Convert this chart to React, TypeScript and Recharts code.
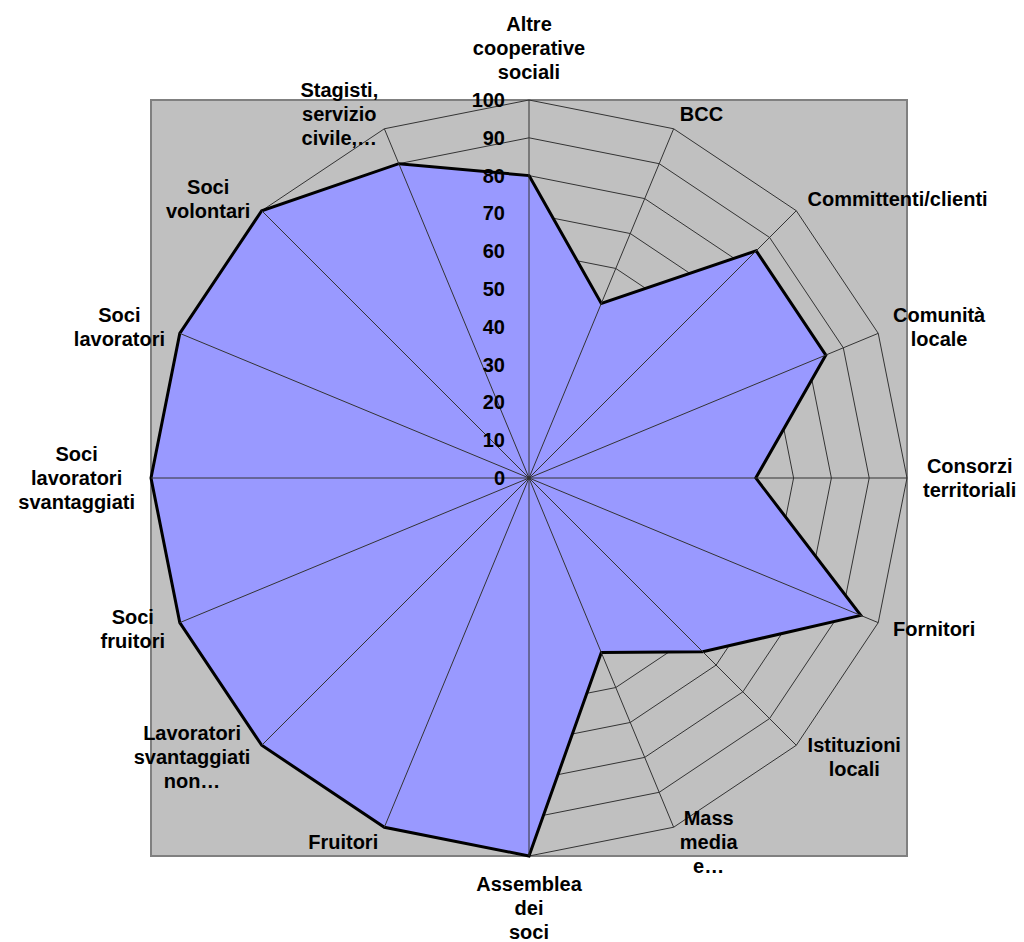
import React from "react";
import {
  RadarChart,
  Radar,
  PolarGrid,
  PolarAngleAxis,
  PolarRadiusAxis,
} from "recharts";

// categories clockwise from the top, line breaks as in the picture
const categories = [
  "Altre\ncooperative\nsociali",
  "BCC",
  "Committenti/clienti",
  "Comunità\nlocale",
  "Consorzi\nterritoriali",
  "Fornitori",
  "Istituzioni\nlocali",
  "Mass\nmedia\ne…",
  "Assemblea\ndei\nsoci",
  "Fruitori",
  "Lavoratori\nsvantaggiati\nnon…",
  "Soci\nfruitori",
  "Soci\nlavoratori\nsvantaggiati",
  "Soci\nlavoratori",
  "Soci\nvolontari",
  "Stagisti,\nservizio\ncivile,…",
];

const values = [80, 50, 85, 85, 60, 95, 65, 50, 100, 100, 100, 100, 100, 100, 100, 90];

const radiusTicks = [0, 10, 20, 30, 40, 50, 60, 70, 80, 90, 100];

const data = categories.map((name, i) => ({ name, value: values[i] }));

const W = 1024;
const H = 942;
const CX = 529;
const CY = 478;
const R = 378;
const GAP = 16;
const LINE = 24;
const FONT = "'Liberation Sans', Arial, Helvetica, sans-serif";
const FONT_SIZE = 20;

let ctx: CanvasRenderingContext2D | null = null;
function measure(s: string) {
  if (!ctx) ctx = document.createElement("canvas").getContext("2d");
  if (!ctx) return s.length * 11;
  ctx.font = `bold ${FONT_SIZE}px ${FONT}`;
  return ctx.measureText(s).width;
}

// category label + the spoke from the centre (the spoke sits above the fill, like Excel)
function AngleTick(props: any) {
  const { x, y, payload } = props;
  const lines = String(payload.value).split("\n");
  const dx = x - CX;
  const dy = y - CY;
  const len = Math.hypot(dx, dy) || 1;
  const ux = dx / len;
  const uy = dy / len;
  const px = CX + ux * (R + GAP);
  const py = CY + uy * (R + GAP);
  const w = Math.max(...lines.map(measure));
  const n = lines.length;
  let mid: number;
  let top: number;
  if (Math.abs(ux) < 0.05) {
    mid = px;
    top = uy < 0 ? py - n * LINE : py;
  } else {
    mid = ux > 0 ? px + w / 2 : px - w / 2;
    top = py - (n * LINE) / 2;
  }
  return (
    <g>
      <line x1={CX} y1={CY} x2={CX + ux * R} y2={CY + uy * R} stroke="#333" strokeWidth={1} />
      {lines.map((l, i) => (
        <text
          key={i}
          x={mid}
          y={top + LINE * i + LINE / 2}
          dy="0.35em"
          textAnchor="middle"
          fontFamily={FONT}
          fontSize={FONT_SIZE}
          fontWeight="bold"
          fill="#000"
        >
          {l}
        </text>
      ))}
    </g>
  );
}

function RadiusTick(props: any) {
  const { x, y, payload } = props;
  return (
    <text
      x={x - 24}
      y={y}
      dy="0.35em"
      textAnchor="end"
      fontFamily={FONT}
      fontSize={FONT_SIZE}
      fontWeight="bold"
      fill="#000"
    >
      {payload.value}
    </text>
  );
}

export default function App() {
  return (
    <div style={{ position: "absolute", left: 0, top: 0, width: W, height: H, background: "#fff" }}>
      {/* plot area box */}
      <div
        style={{
          position: "absolute",
          left: CX - R - 1,
          top: CY - R - 1,
          width: 2 * R + 2,
          height: 2 * R + 2,
          boxSizing: "border-box",
          background: "#C0C0C0",
          border: "2px solid #808080",
        }}
      />
      <div style={{ position: "absolute", left: 0, top: 0 }}>
        <RadarChart
          width={W}
          height={H}
          data={data}
          cx={CX}
          cy={CY}
          outerRadius={R}
          margin={{ top: 0, right: 0, bottom: 0, left: 0 }}
        >
          <PolarGrid gridType="polygon" radialLines={false} stroke="#333" strokeWidth={1} />
          <Radar
            dataKey="value"
            stroke="#000"
            strokeWidth={3}
            fill="#9999FF"
            fillOpacity={1}
            dot={false}
            isAnimationActive={false}
          />
          <PolarAngleAxis dataKey="name" tick={AngleTick} tickLine={false} axisLine={false} />
          <PolarRadiusAxis
            angle={90}
            domain={[0, 100]}
            ticks={radiusTicks as any}
            tickCount={radiusTicks.length}
            tick={RadiusTick}
            axisLine={false}
            tickLine={false}
          />
        </RadarChart>
      </div>
    </div>
  );
}
